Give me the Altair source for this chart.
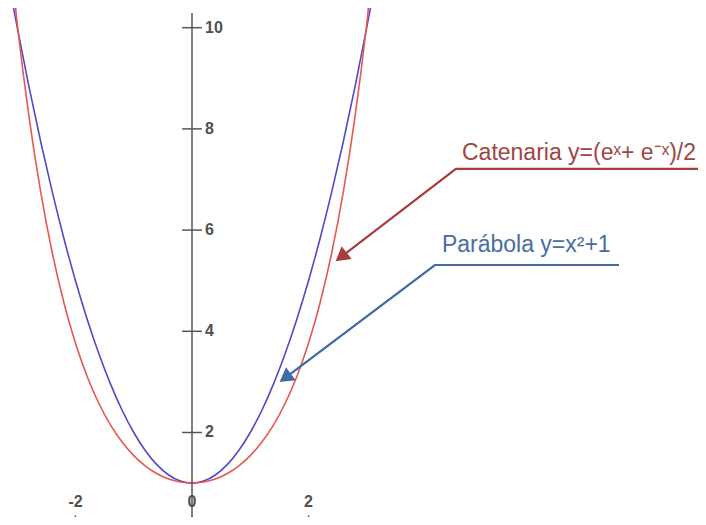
import altair as alt
import pandas as pd

# ---- data ----
x_vals = [-3.2, -3.0, -2.8, -2.6, -2.4, -2.2, -2.0, -1.8, -1.6, -1.4, -1.2, -1.0, -0.8, -0.6, -0.4, -0.2,
          0.0, 0.2, 0.4, 0.6, 0.8, 1.0, 1.2, 1.4, 1.6, 1.8, 2.0, 2.2, 2.4, 2.6, 2.8, 3.0, 3.2]
parabola = [11.24, 10.0, 8.84, 7.76, 6.76, 5.84, 5.0, 4.24, 3.56, 2.96, 2.44, 2.0, 1.64, 1.36, 1.16, 1.04,
            1.0, 1.04, 1.16, 1.36, 1.64, 2.0, 2.44, 2.96, 3.56, 4.24, 5.0, 5.84, 6.76, 7.76, 8.84, 10.0, 11.24]
catenaria = [12.287, 10.068, 8.253, 6.769, 5.557, 4.568, 3.762, 3.108, 2.578, 2.151, 1.811, 1.543, 1.337, 1.186, 1.081, 1.020,
             1.0, 1.020, 1.081, 1.186, 1.337, 1.543, 1.811, 2.151, 2.578, 3.108, 3.762, 4.568, 5.557, 6.769, 8.253, 10.068, 12.287]

y_ticks = [2, 4, 6, 8, 10]
y_tick_labels = ["2", "4", "6", "8", "10"]
x_ticks = [-2, 0, 2]
x_tick_labels = ["-2", "0", "2"]

cat_label = "Catenaria y=(eˣ+ e⁻ˣ)/2"
par_label = "Parábola y=x²+1"

# annotation leader lines (data coordinates)
cat_arrow_x = [2.56, 4.53, 8.69]
cat_arrow_y = [5.47, 7.21, 7.21]
par_arrow_x = [1.60, 4.17, 7.33]
par_arrow_y = [3.08, 5.31, 5.31]

# ---- scales ----
xs = alt.Scale(domain=[-3.159, 8.687], nice=False, zero=False)
ys = alt.Scale(domain=[0.330, 10.389], nice=False, zero=False)

curves = pd.DataFrame({
    "x": x_vals * 2,
    "y": parabola + catenaria,
    "serie": ["Parábola"] * len(x_vals) + ["Catenaria"] * len(x_vals),
})

lines = alt.Chart(curves).mark_line(clip=True, strokeWidth=1.6, interpolate="monotone").encode(
    x=alt.X("x:Q", scale=xs, axis=None),
    y=alt.Y("y:Q", scale=ys, axis=None),
    color=alt.Color("serie:N", scale=alt.Scale(domain=["Parábola", "Catenaria"],
                                               range=["#5548c8", "#e8574f"]), legend=None),
    detail="serie:N",
)

axis_df = pd.DataFrame({"x": [0], "y": [0.0], "y2": [10.29]})
y_axis = alt.Chart(axis_df).mark_rule(color="#555555", strokeWidth=1.5).encode(
    x=alt.X("x:Q", scale=xs, axis=None),
    y=alt.Y("y:Q", scale=ys, axis=None),
    y2="y2:Q",
)

yt_df = pd.DataFrame({"y": y_ticks, "lab": y_tick_labels, "x0": [0] * 5,
                      "x1": [-0.17] * 5, "x2": [0.17] * 5})
y_tick_marks = alt.Chart(yt_df).mark_rule(color="#555555", strokeWidth=1.5).encode(
    x=alt.X("x1:Q", scale=xs, axis=None),
    x2="x2:Q",
    y=alt.Y("y:Q", scale=ys, axis=None),
)
y_tick_text = alt.Chart(yt_df).mark_text(align="left", baseline="middle", dx=13, fontSize=16,
                                         fontWeight="bold", color="#505050",
                                         font="Liberation Sans").encode(
    x=alt.X("x0:Q", scale=xs, axis=None),
    y=alt.Y("y:Q", scale=ys, axis=None),
    text="lab:N",
)

xt_df = pd.DataFrame({"x": x_ticks, "lab": x_tick_labels, "ylab": [0.63] * 3,
                      "t1": [0.36] * 3, "t2": [0.10] * 3})
x_tick_text = alt.Chart(xt_df).mark_text(align="center", baseline="middle", fontSize=16,
                                         fontWeight="bold", color="#505050",
                                         font="Liberation Sans").encode(
    x=alt.X("x:Q", scale=xs, axis=None),
    y=alt.Y("ylab:Q", scale=ys, axis=None),
    text="lab:N",
)
x_tick_marks = alt.Chart(xt_df).mark_rule(color="#555555", strokeWidth=1.5).encode(
    x=alt.X("x:Q", scale=xs, axis=None),
    y=alt.Y("t1:Q", scale=ys, axis=None),
    y2="t2:Q",
)

def leader(xv, yv, color):
    df = pd.DataFrame({"x": xv, "y": yv, "o": list(range(len(xv)))})
    return alt.Chart(df).mark_line(color=color, strokeWidth=2.2, clip=True).encode(
        x=alt.X("x:Q", scale=xs, axis=None),
        y=alt.Y("y:Q", scale=ys, axis=None),
        order="o:O",
    )

cat_line = leader(cat_arrow_x, cat_arrow_y, "#a83c3c")
par_line = leader(par_arrow_x, par_arrow_y, "#3f6aa2")

heads_df = pd.DataFrame({"x": [cat_arrow_x[0], par_arrow_x[0]], "y": [cat_arrow_y[0], par_arrow_y[0]],
                         "ang": [231.6, 233.3], "c": ["cat", "par"]})
heads = alt.Chart(heads_df).mark_point(shape="triangle-up", filled=True, size=260, opacity=1).encode(
    x=alt.X("x:Q", scale=xs, axis=None),
    y=alt.Y("y:Q", scale=ys, axis=None),
    angle=alt.Angle("ang:Q", scale=None),
    color=alt.Color("c:N", scale=alt.Scale(domain=["cat", "par"], range=["#a83c3c", "#3f6aa2"]), legend=None),
)

lab_df = pd.DataFrame({"x": [4.635, 4.29], "y": [7.385, 5.567], "t": [cat_label, par_label],
                       "c": ["cat", "par"]})
labels = alt.Chart(lab_df).mark_text(align="left", baseline="alphabetic", fontSize=23,
                                     font="Liberation Sans").encode(
    x=alt.X("x:Q", scale=xs, axis=None),
    y=alt.Y("y:Q", scale=ys, axis=None),
    text="t:N",
    color=alt.Color("c:N", scale=alt.Scale(domain=["cat", "par"], range=["#9c4646", "#4a6d9e"]), legend=None),
)

chart = alt.layer(
    lines, y_axis, y_tick_marks, y_tick_text, x_tick_text, x_tick_marks,
    cat_line, par_line, heads, labels
).resolve_scale(color="independent").properties(
    width=690, height=509, padding=0, autosize=alt.AutoSizeParams(type="none")
).configure_view(stroke=None)

chart.save("out.html", embed_options={"renderer": "svg", "actions": False})
